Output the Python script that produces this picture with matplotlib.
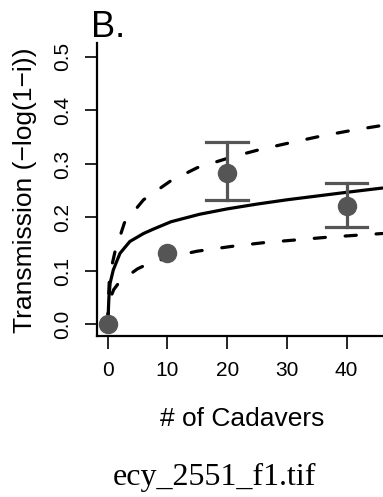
import matplotlib
matplotlib.use('Agg')
import matplotlib.pyplot as plt
import numpy as np

# observed points
cad = [0, 10, 20, 40]
trans = [0.0, 0.134, 0.284, 0.221]
err_lo = [np.nan, np.nan, 0.232, 0.182]
err_hi = [np.nan, np.nan, 0.341, 0.264]

# fitted curve (solid)
fit_x = [0, 0.1, 0.2, 0.4, 0.94, 2.06, 3.7, 6.0, 7.6, 10.6, 15.4, 20, 25, 30, 35, 40, 46]
fit_y = [0, 0.022, 0.05, 0.077, 0.102, 0.133, 0.155, 0.170, 0.178, 0.192, 0.206, 0.216, 0.225, 0.233, 0.240, 0.247, 0.255]

# confidence band (dashed)
up_x = [0, 0.1, 0.3, 1.2, 2.8, 6.0, 10.5, 15, 20.8, 25.5, 30.7, 35.7, 41, 46]
up_y = [0, 0.04, 0.09, 0.135, 0.19, 0.233, 0.268, 0.293, 0.313, 0.327, 0.340, 0.352, 0.363, 0.372]
lo_x = [0, 0.1, 0.3, 1.0, 2.0, 5.0, 6.5, 10, 15, 20.8, 26.2, 31.5, 36.7, 42, 46]
lo_y = [0, 0.02, 0.045, 0.065, 0.080, 0.104, 0.112, 0.125, 0.137, 0.146, 0.153, 0.158, 0.163, 0.167, 0.170]

xticks = [0, 10, 20, 30, 40]
yticks = [0.0, 0.1, 0.2, 0.3, 0.4, 0.5]

plt.rcParams['font.family'] = ['Liberation Sans', 'DejaVu Sans']

fig = plt.figure(figsize=(3.83, 4.97), dpi=100)
ax = fig.add_axes([97/383, 161/497, 1 - 97/383, 293/497])

gray = '#555555'
ax.plot(fit_x, fit_y, color='black', lw=2.3, solid_capstyle='round', solid_joinstyle='round')
ax.plot(up_x, up_y, color='black', lw=2.3, dashes=(3.5, 6.2), dash_capstyle='round')
ax.plot(lo_x, lo_y, color='black', lw=2.3, dashes=(3.5, 6.2), dash_capstyle='round')

for x, lo, hi in zip(cad, err_lo, err_hi):
    if np.isnan(lo):
        continue
    ax.plot([x, x], [lo, hi], color=gray, lw=2.3)
    ax.plot([x - 3.5, x + 3.5], [lo, lo], color=gray, lw=2.3)
    ax.plot([x - 3.5, x + 3.5], [hi, hi], color=gray, lw=2.3)

ax.plot(cad, trans, 'o', color=gray, markersize=13, zorder=5)

ax.set_xlim(-1.79, 46.1)
ax.set_ylim(-0.0215, 0.526)
ax.spines['top'].set_visible(False)
ax.spines['right'].set_visible(False)
ax.spines['left'].set_linewidth(1.6)
ax.spines['bottom'].set_linewidth(1.6)

ax.set_xticks(xticks)
ax.set_xticklabels([str(t) for t in xticks])
ax.set_yticks(yticks)
ax.set_yticklabels(['%.1f' % t for t in yticks], rotation=90, va='center')
ax.tick_params(axis='both', length=9, width=1.2, labelsize=15, colors='black')
ax.tick_params(axis='x', pad=9)
ax.tick_params(axis='y', pad=9)

fig.text(25/383, 1 - 190/497, 'Transmission (\u2212log(1\u2212i))', rotation=90,
         ha='center', va='center', fontsize=19)
fig.text(242/383, 1 - 419/497, '# of Cadavers', ha='center', va='center', fontsize=19)
fig.text(91/383, 1 - 37/497, 'B.', ha='left', va='baseline', fontsize=26)
fig.text(214/383, 1 - 485/497, 'ecy_2551_f1.tif', ha='center', va='baseline',
         fontsize=23, family=['Liberation Serif', 'DejaVu Serif'])

fig.savefig('out.png', dpi=100)
